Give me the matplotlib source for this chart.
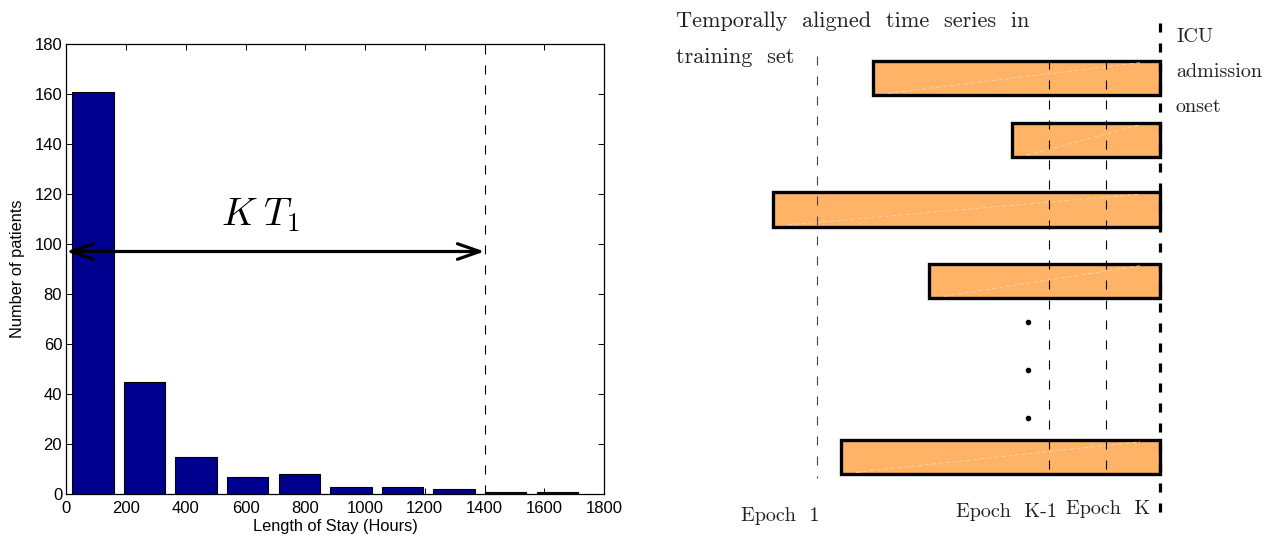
import matplotlib
matplotlib.use("Agg")
import matplotlib.pyplot as plt
from matplotlib.patches import Rectangle, FancyArrowPatch

plt.rcParams['mathtext.fontset'] = 'cm'
plt.rcParams['lines.scale_dashes'] = False
plt.rcParams['font.family'] = ['Liberation Sans', 'DejaVu Sans']

# ---------------- data: histogram ----------------
bin_centers = [89, 262, 435, 607, 780, 953, 1126, 1298, 1471, 1644]
counts = [161, 45, 15, 7, 8, 3, 3, 2, 1, 1]
bar_width = 139
cutoff = 1400
arrow_y = 97
xticks = [0, 200, 400, 600, 800, 1000, 1200, 1400, 1600, 1800]
yticks = [0, 20, 40, 60, 80, 100, 120, 140, 160, 180]

# ---------------- data: diagram (time relative to ICU onset) ----------------
series_start = [-287, -148, -387, -231, -319]
series_row = [78, 140, 209.5, 281, 457]
series_height = 34.5
epoch_lines = [-343.3, -111.0, -54.3]
epoch_line_top = [56, 60, 60]
epoch_line_bottom = [478, 471, 471]
epoch_labels = ["Epoch  1", "Epoch  K-1", "Epoch  K"]
epoch_label_x = [-419, -204, -94]
epoch_label_y = [521, 517, 514]
dots_x = [-131.7, -131.7, -131.7]
dots_y = [321.7, 369.7, 417.7]
onset_labels = ["ICU", "admission", "onset"]
onset_label_y = [42, 77, 112]

fig = plt.figure(figsize=(12.75, 5.43), dpi=100)

# ---------------- left: histogram ----------------
ax = fig.add_axes([66.3 / 1275, 49 / 543, (604 - 66.3) / 1275, 450 / 543])
ax.bar(bin_centers, counts, width=bar_width, color='#00008F',
       edgecolor='black', linewidth=0.8, zorder=2)
ax.set_xlim(0, 1800)
ax.set_ylim(0, 180)
ax.set_xticks(xticks)
ax.set_yticks(yticks)
ax.tick_params(direction='in', top=True, right=True, length=4, width=0.7,
               labelsize=12)
ax.tick_params(axis='x', pad=5)
ax.tick_params(axis='y', pad=3)
for s in ax.spines.values():
    s.set_linewidth(0.9)
ax.set_xlabel("Length of Stay (Hours)", fontsize=11.8, labelpad=2)
ax.set_ylabel("Number of patients", fontsize=11.8, labelpad=7)

ax.plot([cutoff, cutoff], [0, 180], color='black', lw=0.8,
        dashes=(6.5, 7.9), zorder=3)
arr = FancyArrowPatch((0, arrow_y), (cutoff, arrow_y),
                      arrowstyle='<->,head_length=0.8,head_width=0.28',
                      mutation_scale=20, lw=2.3, color='black',
                      shrinkA=0, shrinkB=0, zorder=4, clip_on=False)
ax.add_patch(arr)
ax.text(519, 107.6, r'$K\;T_1$', fontsize=28, ha='left', va='baseline')

# ---------------- right: diagram ----------------
ax2 = fig.add_axes([640 / 1275, 0, 635 / 1275, 1])
ax2.set_xlim(-520, 115)
ax2.set_ylim(543, 0)
ax2.axis('off')

for x0, yc in zip(series_start, series_row):
    r = Rectangle((x0, yc - series_height / 2), 0 - x0, series_height,
                  facecolor='#FFB366', edgecolor='black', linewidth=2.4,
                  zorder=2)
    ax2.add_patch(r)
    ax2.plot([x0 + 15, -20], [yc + series_height / 2 - 2, yc - series_height / 2 + 2],
             color='#FFD7B0', lw=0.6, dashes=(3, 2), zorder=2.5)

for xl, yt, yb, c in zip(epoch_lines, epoch_line_top, epoch_line_bottom,
                         ['#444444', 'black', 'black']):
    ax2.plot([xl, xl], [yt, yb], color=c, lw=0.8, dashes=(6.5, 7.9), zorder=3)

ax2.plot([0, 0], [23, 515], color='black', lw=2.3, dashes=(6.5, 7.9), zorder=4)

ax2.plot(dots_x, dots_y, 'o', color='black', markersize=3, zorder=3)

serif = dict(family='cmr10', color='#222222')
ax2.text(-484, 27, "Temporally  aligned  time  series  in", fontsize=16,
         ha='left', va='baseline', **serif)
ax2.text(-484, 63, "training  set", fontsize=16, ha='left', va='baseline', **serif)
for lab, yy in zip(onset_labels, onset_label_y):
    ax2.text(16, yy, lab, fontsize=14.5, ha='left', va='baseline', **serif)
for lab, xx, yy in zip(epoch_labels, epoch_label_x, epoch_label_y):
    ax2.text(xx, yy, lab, fontsize=14.5, ha='left', va='baseline', **serif)

fig.savefig("out.png", dpi=100)
